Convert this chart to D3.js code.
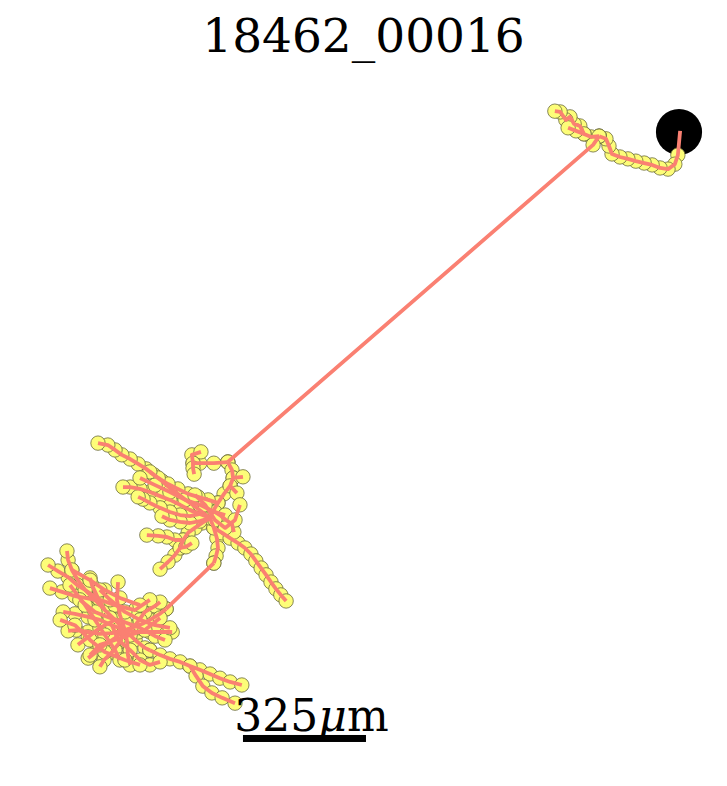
<!DOCTYPE html>
<html>
<head>
<meta charset="utf-8">
<script src="https://cdn.jsdelivr.net/npm/d3@7"></script>
<style>
  html, body { margin: 0; padding: 0; background: #fff; }
  svg { display: block; }
</style>
</head>
<body>
<div id="chart"></div>
<script>
// ---------------- DATA (micrometres, soma-centred, y up) ----------------
const title = "18462_00016";
const somaCenter = [0, 0];
const somaRadius = 61;
const scaleBarLength = 325;
const scaleBarLabel = "325";
const scaleBarUnit = "μm";

// axon trunk and its tip near the soma
const trunk = [[3,3],[0,-29],[-3,-61],[-11,-85],[-29,-98],[-50,-95],[-71,-87],[-92,-82],[-114,-77],[-135,-71],[-156,-66],[-177,-58],[-185,-37],[-193,-18],[-211,-11]];
const trunkTuft = [[-211,-11],[-232,-13],[-251,-5],[-262,16],[-277,21],[-288,40],[-299,32],[-314,53],[-328,55]];
const trunkTuftB = [[-251,-5],[-272,3],[-293,11]];
const axonLong = [[-211,-11],[-227,-34],[-1192,-872]];

// upper arbour
const upperLoop = [[-1192,-872],[-1229,-875],[-1266,-875],[-1284,-875],[-1287,-853],[-1263,-845]];
const upperLoopB = [[-1284,-875],[-1284,-888],[-1281,-904]];
const upperMain = [[-1192,-872],[-1181,-893],[-1178,-914],[-1186,-935],[-1202,-956],[-1218,-980],[-1231,-1001],[-1239,-1020]];
const upperStubA = [[-1178,-914],[-1152,-911]];
const upperStubB = [[-1186,-935],[-1168,-954]];
const upperC1 = [[-1239,-1020],[-1260,-1004],[-1281,-988],[-1303,-972],[-1324,-956],[-1345,-941],[-1366,-922],[-1387,-906],[-1408,-890],[-1429,-877],[-1450,-864],[-1472,-853],[-1490,-840],[-1509,-827],[-1535,-822]];
const upperC2 = [[-1239,-1020],[-1266,-1009],[-1292,-999],[-1318,-985],[-1345,-972],[-1371,-962],[-1398,-951],[-1424,-943],[-1450,-938],[-1469,-938]];
const upperC3 = [[-1266,-1009],[-1292,-1015],[-1318,-1012],[-1345,-1004],[-1371,-993],[-1398,-980],[-1416,-970],[-1429,-964]];
const upperC4 = [[-1239,-1020],[-1260,-1033],[-1279,-1046],[-1297,-1059],[-1310,-1078],[-1318,-1099],[-1332,-1118],[-1350,-1136],[-1371,-1155]];
const upperC5 = [[-1310,-1078],[-1332,-1078],[-1353,-1070],[-1376,-1067],[-1406,-1065]];
const upperC5b = [[-1318,-1099],[-1303,-1096],[-1287,-1086]];
const upperC6 = [[-1239,-1020],[-1229,-1046],[-1221,-1073],[-1218,-1099],[-1223,-1120],[-1229,-1139]];
const upperC7 = [[-1229,-1046],[-1207,-1059],[-1186,-1073],[-1165,-1086],[-1147,-1099],[-1131,-1115],[-1118,-1133],[-1104,-1152],[-1091,-1170],[-1078,-1189],[-1065,-1207],[-1052,-1223],[-1038,-1239]];
const upperC8 = [[-1231,-1001],[-1213,-1012],[-1197,-1025],[-1181,-1036],[-1176,-1057]];
const upperC10 = [[-1218,-980],[-1244,-972],[-1271,-964],[-1297,-956],[-1324,-943],[-1350,-930],[-1376,-914],[-1398,-898]];
const upperC11 = [[-1239,-1020],[-1266,-1028],[-1292,-1033],[-1318,-1030],[-1345,-1025],[-1366,-1015]];
const upperC12 = [[-1424,-914],[-1384,-933],[-1345,-951],[-1305,-972],[-1266,-985],[-1226,-1004],[-1199,-1012]];
const upperC13 = [[-1279,-959],[-1252,-985],[-1226,-1025],[-1199,-1046],[-1173,-1025],[-1160,-985]];
const linkToLower = [[-1229,-1139],[-1355,-1260]];

// lower arbour
const lowerRoot = [[-1355,-1260],[-1376,-1276],[-1398,-1289],[-1419,-1300],[-1440,-1308],[-1464,-1316]];
const lowerB1 = [[-1464,-1316],[-1490,-1289],[-1517,-1263],[-1543,-1236],[-1569,-1210],[-1588,-1184],[-1604,-1157],[-1614,-1131],[-1617,-1107]];
const lowerB2 = [[-1569,-1210],[-1590,-1197],[-1614,-1176],[-1641,-1160],[-1667,-1144]];
const lowerB3 = [[-1543,-1236],[-1569,-1231],[-1596,-1226],[-1630,-1215],[-1662,-1205]];
const lowerB4 = [[-1464,-1316],[-1498,-1303],[-1530,-1289],[-1561,-1281],[-1596,-1273],[-1627,-1268]];
const lowerB5 = [[-1464,-1316],[-1498,-1324],[-1530,-1326],[-1561,-1321],[-1593,-1316],[-1614,-1318]];
const lowerB6 = [[-1464,-1316],[-1490,-1337],[-1517,-1355],[-1540,-1374],[-1561,-1390]];
const lowerB7 = [[-1464,-1316],[-1477,-1347],[-1498,-1374],[-1519,-1395],[-1530,-1413]];
const lowerB8 = [[-1464,-1316],[-1458,-1347],[-1456,-1382],[-1450,-1408]];
const lowerB9 = [[-1464,-1316],[-1437,-1342],[-1411,-1363],[-1398,-1369]];
const lowerR1 = [[-1398,-1369],[-1371,-1382],[-1345,-1392],[-1318,-1400],[-1292,-1411],[-1266,-1421],[-1239,-1432],[-1213,-1443],[-1186,-1453],[-1155,-1461]];
const lowerR2 = [[-1292,-1411],[-1276,-1437],[-1258,-1464],[-1234,-1482],[-1207,-1495],[-1173,-1509]];
const lowerB10 = [[-1464,-1316],[-1429,-1321],[-1398,-1321],[-1366,-1321],[-1339,-1321]];
const lowerB11 = [[-1440,-1308],[-1411,-1268],[-1384,-1252],[-1371,-1242]];
const lowerB12 = [[-1464,-1316],[-1477,-1276],[-1485,-1236],[-1482,-1189]];
const lowerB13 = [[-1517,-1263],[-1535,-1231],[-1551,-1197],[-1556,-1178]];
const lowerB14 = [[-1490,-1289],[-1530,-1310],[-1561,-1334],[-1588,-1355]];
const lowerB15 = [[-1498,-1303],[-1482,-1342],[-1450,-1369],[-1424,-1395],[-1398,-1408],[-1371,-1400]];
const lowerB16 = [[-1569,-1210],[-1530,-1236],[-1490,-1250],[-1437,-1263],[-1398,-1236]];
const lowerB17 = [[-1604,-1157],[-1556,-1184],[-1517,-1210],[-1477,-1231],[-1424,-1250]];
const lowerB18 = [[-1583,-1236],[-1543,-1268],[-1503,-1284],[-1464,-1295],[-1424,-1310],[-1384,-1332],[-1358,-1342]];
const lowerB19 = [[-1609,-1197],[-1569,-1250],[-1543,-1289],[-1517,-1329],[-1490,-1369],[-1477,-1395]];
const lowerB20 = [[-1635,-1289],[-1596,-1303],[-1556,-1342],[-1517,-1374],[-1464,-1395],[-1424,-1408]];
const lowerB21 = [[-1530,-1210],[-1503,-1236],[-1464,-1268],[-1424,-1289],[-1384,-1303],[-1345,-1310]];
const lowerB22 = [[-1556,-1382],[-1530,-1355],[-1490,-1342],[-1450,-1329],[-1411,-1316],[-1371,-1284]];

const sections = [trunk, trunkTuft, trunkTuftB, axonLong,
  upperLoop, upperLoopB, upperMain, upperStubA, upperStubB, upperC1, upperC2, upperC3, upperC4,
  upperC5, upperC5b, upperC6, upperC7, upperC8, upperC10, upperC11, upperC12, upperC13, linkToLower,
  lowerRoot, lowerB1, lowerB2, lowerB3, lowerB4, lowerB5, lowerB6, lowerB7, lowerB8, lowerB9,
  lowerR1, lowerR2, lowerB10, lowerB11, lowerB12, lowerB13, lowerB14, lowerB15, lowerB16, lowerB17,
  lowerB18, lowerB19, lowerB20, lowerB21, lowerB22];

// ---------------- LAYOUT ----------------
const W = 727, H = 786;
const pxPerUm = 1 / 2.642;
const originX = 679, originY = 132;
const x = d3.scaleLinear().domain([-1750, 100]).range([originX - 1750 * pxPerUm, originX + 100 * pxPerUm]);
const y = d3.scaleLinear().domain([100, -1750]).range([originY - 100 * pxPerUm, originY + 1750 * pxPerUm]);

const svg = d3.select("#chart").append("svg").attr("width", W).attr("height", H);

svg.append("text")
  .attr("x", W / 2).attr("y", 52)
  .attr("text-anchor", "middle")
  .attr("font-family", "DejaVu Serif")
  .attr("font-size", 47)
  .text(title);

// node markers
const nodes = [];
sections.forEach(s => s.forEach(p => {
  const d = Math.hypot(p[0] - somaCenter[0], p[1] - somaCenter[1]);
  if (d > somaRadius * 0.8) nodes.push(p);
}));

svg.append("circle")
  .attr("cx", x(somaCenter[0])).attr("cy", y(somaCenter[1]))
  .attr("r", x(somaRadius) - x(0))
  .attr("fill", "#000");

svg.append("g").selectAll("circle").data(nodes).join("circle")
  .attr("cx", d => x(d[0])).attr("cy", d => y(d[1]))
  .attr("r", 7.2)
  .attr("fill", "#fdfd78")
  .attr("stroke", "#6a6a3c")
  .attr("stroke-width", 0.8);

const line = d3.line().x(d => x(d[0])).y(d => y(d[1]));
svg.append("g").selectAll("path").data(sections).join("path")
  .attr("d", line)
  .attr("fill", "none")
  .attr("stroke", "#fa8072")
  .attr("stroke-width", 3.8)
  .attr("stroke-linejoin", "round");

// scale bar
const barX0 = -1152, barY = -1601;
svg.append("rect")
  .attr("x", x(barX0)).attr("y", y(barY) - 3)
  .attr("width", x(barX0 + scaleBarLength) - x(barX0))
  .attr("height", 7)
  .attr("fill", "#000");

const label = svg.append("text")
  .attr("x", (x(barX0) + x(barX0 + scaleBarLength)) / 2 + 7)
  .attr("y", y(barY) - 7)
  .attr("text-anchor", "middle")
  .attr("font-family", "DejaVu Serif")
  .attr("font-size", 44);
label.append("tspan").text(scaleBarLabel);
label.append("tspan").attr("font-style", "italic").text(scaleBarUnit.charAt(0));
label.append("tspan").text(scaleBarUnit.slice(1));
</script>
</body>
</html>
